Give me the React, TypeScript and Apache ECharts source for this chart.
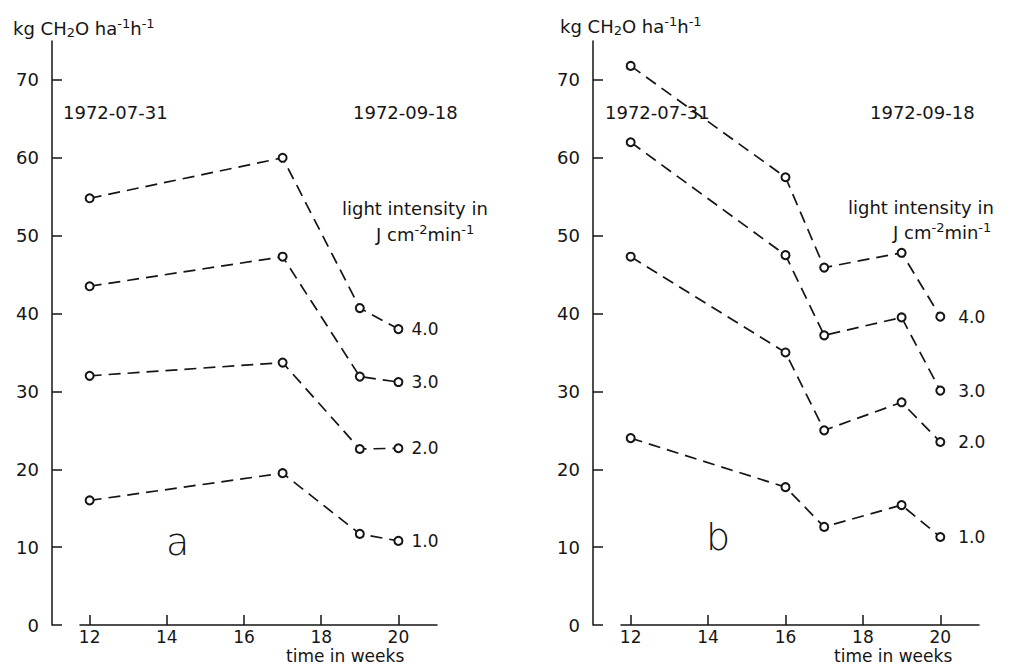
import React, { useEffect, useRef } from "react";
import * as echarts from "echarts";

// ---- data ----
const weeksA = [12, 17, 19, 20];
const weeksB = [12, 16, 17, 19, 20];
const intensityLabels = ["4.0", "3.0", "2.0", "1.0"];
const panelA_40 = [54.8, 60.0, 40.7, 38.0];
const panelA_30 = [43.5, 47.3, 31.9, 31.2];
const panelA_20 = [32.0, 33.7, 22.6, 22.7];
const panelA_10 = [16.0, 19.5, 11.7, 10.8];
const panelB_40 = [71.8, 57.5, 45.9, 47.8, 39.6];
const panelB_30 = [62.0, 47.5, 37.2, 39.5, 30.1];
const panelB_20 = [47.3, 35.0, 25.0, 28.6, 23.5];
const panelB_10 = [24.0, 17.7, 12.6, 15.4, 11.3];
const xTicks = [12, 14, 16, 18, 20];
const yTicks = [0, 10, 20, 30, 40, 50, 60, 70];
const startDate = "1972-07-31";
const endDate = "1972-09-18";

const FONT = "DejaVu Sans";
const INK = "#151515";

function App() {
  const ref = useRef<HTMLDivElement>(null);
  useEffect(() => {
    if (!ref.current) return;
    const chart = echarts.init(ref.current, null, { renderer: "svg" });

    const mkSeries = (
      name: string,
      xs: number[],
      ys: number[],
      idx: number,
      labelDist: number
    ) => ({
      type: "line",
      name,
      xAxisIndex: idx,
      yAxisIndex: idx,
      showSymbol: true,
      symbol: "emptyCircle",
      symbolSize: 8,
      itemStyle: { color: INK, borderColor: INK, borderWidth: 1.3 },
      lineStyle: { color: INK, width: 1.7, type: [12, 7] },
      data: xs.map((x, i) => ({
        value: [x, ys[i]],
        label:
          i === xs.length - 1
            ? {
                show: true,
                position: "right",
                distance: labelDist,
                formatter: name,
                fontFamily: FONT,
                fontSize: 17,
                color: INK,
              }
            : { show: false },
      })),
    });

    const axisX = (idx: number) => ({
      type: "value",
      gridIndex: idx,
      min: 11.75,
      max: 21,
      axisLine: { show: true, onZero: false, lineStyle: { color: INK, width: 1.5 } },
      axisTick: {
        show: true,
        inside: true,
        length: 10,
        customValues: xTicks,
        lineStyle: { color: INK, width: 1.5 },
      },
      axisLabel: {
        customValues: xTicks,
        margin: 2,
        fontFamily: FONT,
        fontSize: 17,
        lineHeight: 19,
        color: INK,
      },
      splitLine: { show: false },
    });

    const axisY = (idx: number) => ({
      type: "value",
      gridIndex: idx,
      min: 0,
      max: 75,
      offset: 28,
      axisLine: { show: true, lineStyle: { color: INK, width: 1.5 } },
      axisTick: {
        show: true,
        inside: true,
        length: 10,
        customValues: yTicks,
        lineStyle: { color: INK, width: 1.5 },
      },
      axisLabel: {
        customValues: yTicks,
        margin: 13,
        fontFamily: FONT,
        fontSize: 18,
        color: INK,
      },
      splitLine: { show: false },
    });

    const txt = (text: string, left: number, top: number, size = 18, extra: any = {}) => ({
      type: "text",
      left,
      top,
      style: { text, fontFamily: FONT, fontSize: size, fill: INK, ...extra },
    });

    const unitRich = {
      n: { fontFamily: FONT, fontSize: 18, color: INK, lineHeight: 22 },
      sub: { fontFamily: FONT, fontSize: 13, color: INK, lineHeight: 12, verticalAlign: "bottom" },
      sup: { fontFamily: FONT, fontSize: 13, color: INK, lineHeight: 12, verticalAlign: "top" },
    };
    const richTxt = (text: string, left: number, top: number) => ({
      type: "text",
      left,
      top,
      style: { text, rich: unitRich, fill: INK },
    });

    const yName = "{n|kg CH}{sub|2}{n|O ha}{sup|-1}{n|h}{sup|-1}";
    const jName = "{n|J cm}{sup|-2}{n|min}{sup|-1}";

    chart.setOption({
      animation: false,
      backgroundColor: "#fff",
      grid: [
        { left: 80, top: 41, width: 357, height: 584, containLabel: false },
        { left: 621, top: 41, width: 358, height: 584, containLabel: false },
      ],
      xAxis: [axisX(0), axisX(1)],
      yAxis: [axisY(0), axisY(1)],
      series: [
        mkSeries(intensityLabels[0], weeksA, panelA_40, 0, 8),
        mkSeries(intensityLabels[1], weeksA, panelA_30, 0, 8),
        mkSeries(intensityLabels[2], weeksA, panelA_20, 0, 8),
        mkSeries(intensityLabels[3], weeksA, panelA_10, 0, 8),
        mkSeries(intensityLabels[0], weeksB, panelB_40, 1, 13),
        mkSeries(intensityLabels[1], weeksB, panelB_30, 1, 13),
        mkSeries(intensityLabels[2], weeksB, panelB_20, 1, 13),
        mkSeries(intensityLabels[3], weeksB, panelB_10, 1, 13),
      ],
      graphic: [
        richTxt(yName, 13, 17),
        richTxt(yName, 560, 15),
        txt(startDate, 63, 103),
        txt(endDate, 353, 103),
        txt(startDate, 605, 103),
        txt(endDate, 870, 103),
        txt("light intensity in", 342, 199),
        richTxt(jName, 376, 223),
        txt("light intensity in", 848, 198),
        richTxt(jName, 893, 221),
        txt("a", 166, 523, 38, { fontWeight: 300 }),
        txt("b", 706, 518, 38, { fontWeight: 300 }),
        txt("time in weeks", 286, 647, 17, { lineHeight: 18 }),
        txt("time in weeks", 834, 647, 17, { lineHeight: 18 }),
      ],
    });
    return () => chart.dispose();
  }, []);
  return (
    <div
      ref={ref}
      style={{ position: "fixed", left: 0, top: 0, width: 1011, height: 666, background: "#fff" }}
    />
  );
}

export default App;
